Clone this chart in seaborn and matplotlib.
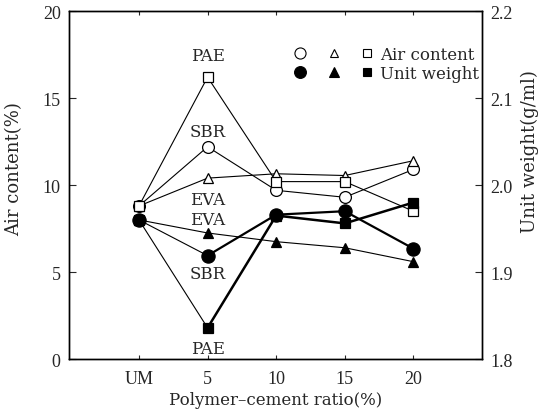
import matplotlib
matplotlib.use("Agg")
import matplotlib.pyplot as plt
from matplotlib.legend_handler import HandlerTuple
from matplotlib.lines import Line2D
import seaborn as sns
import pandas as pd

# Polymer-cement ratio categories
categories = ["UM", "5", "10", "15", "20"]

# Air content (%), left axis
air_sbr = [8.8, 12.2, 9.7, 9.3, 10.9]
air_eva = [8.8, 10.4, 10.65, 10.55, 11.4]
air_pae = [8.8, 16.2, 10.2, 10.2, 8.5]

# Unit weight (g/ml), right axis
uw_sbr = [1.960, 1.919, 1.966, 1.970, 1.927]
uw_eva = [1.960, 1.945, 1.935, 1.928, 1.912]
uw_pae = [1.960, 1.836, 1.965, 1.956, 1.980]

sns.set_theme(style="ticks")
plt.rcParams["font.family"] = ["Liberation Serif", "DejaVu Serif"]

FS = 13
WORD = dict(family=["DejaVu Serif"], fontsize=12)
YLAB = dict(family=["DejaVu Serif"], fontsize=13)
fig = plt.figure(figsize=(5.41, 4.14), dpi=100)
ax = fig.add_axes([0.1275, 0.130, 0.7635, 0.841])
ax2 = ax.twinx()

pos = list(range(len(categories)))


def frame(values):
    return pd.DataFrame({"x": pos, "y": values})


def draw(axis, values, marker, filled, ms, lw_first, lw_rest):
    df = frame(values)
    face = "black" if filled else "white"
    # first segment (UM -> 5) thin, remaining segments with their own weight
    sns.lineplot(data=df.iloc[:2], x="x", y="y", ax=axis, color="black",
                 lw=lw_first, marker=None, zorder=2)
    sns.lineplot(data=df.iloc[1:], x="x", y="y", ax=axis, color="black",
                 lw=lw_rest, marker=None, zorder=2)
    sns.lineplot(data=df, x="x", y="y", ax=axis, color="black", lw=0,
                 marker=marker, markersize=ms, markerfacecolor=face,
                 markeredgecolor="black", markeredgewidth=0.9, zorder=3)


# Air content series (open markers)
draw(ax, air_sbr, "o", False, 8.5, 0.8, 0.8)
draw(ax, air_eva, "^", False, 7.5, 0.8, 0.8)
draw(ax, air_pae, "s", False, 7.5, 0.8, 0.8)

# Unit weight series (filled markers)
draw(ax2, uw_sbr, "o", True, 9.5, 0.8, 1.6)
draw(ax2, uw_eva, "^", True, 7.5, 0.8, 0.8)
draw(ax2, uw_pae, "s", True, 7.0, 0.8, 1.8)

# Polymer names beside the 5 % points
label_kw = dict(ha="center", va="center", **WORD)
ax.text(1, 17.45, "PAE", **label_kw)
ax.text(1, 13.1, "SBR", **label_kw)
ax.text(1, 9.2, "EVA", **label_kw)
ax.text(1, 8.0, "EVA", **label_kw)
ax.text(1, 4.9, "SBR", **label_kw)
ax.text(1, 0.6, "PAE", **label_kw)

ax.set_xlim(-1.02, 5.0)
ax.set_ylim(0, 20)
ax2.set_ylim(1.8, 2.2)
ax.set_xticks(pos)
ax.set_xticklabels(categories)
ax.set_yticks([0, 5, 10, 15, 20])
ax2.set_yticks([1.8, 1.9, 2.0, 2.1, 2.2])
ax2.set_yticklabels(["1.8", "1.9", "2.0", "2.1", "2.2"])

ax.set_xlabel("Polymer\u2013cement ratio(%)", labelpad=3, **WORD)
ax.set_ylabel("Air content(%)", **YLAB)
ax2.set_ylabel("Unit weight(g/ml)", **YLAB)
ax.yaxis.set_label_coords(-0.11, 0.55)
ax2.yaxis.set_label_coords(1.093, 0.6)

ax.tick_params(axis="x", direction="in", top=True, length=3, width=0.8,
               labelsize=FS, pad=8)
ax.tick_params(axis="y", direction="in", length=5, width=0.8,
               labelsize=FS, pad=6)
ax2.tick_params(axis="y", direction="in", length=5, width=0.8,
                labelsize=FS, pad=6)
for a in (ax, ax2):
    for sp in a.spines.values():
        sp.set_visible(True)
        sp.set_linewidth(1.0)
        sp.set_color("black")
ax.grid(False)
ax2.grid(False)

# Legend: open markers for air content, filled markers for unit weight
def mk(marker, filled, ms):
    return Line2D([], [], lw=0, marker=marker, markersize=ms,
                  markerfacecolor="black" if filled else "white",
                  markeredgecolor="black", markeredgewidth=0.8)

h_air = (mk("o", False, 8), mk("^", False, 6), mk("s", False, 6))
h_uw = (mk("o", True, 8.5), mk("^", True, 6.5), mk("s", True, 6))
ax.legend([h_air, h_uw], ["Air content", "Unit weight"],
          handler_map={tuple: HandlerTuple(ndivide=None, pad=1.0)},
          handlelength=5.0, handletextpad=0.3, labelspacing=0.15,
          frameon=False, prop=dict(family="DejaVu Serif", size=12),
          loc="upper right", bbox_to_anchor=(1.01, 0.92), borderaxespad=0)

fig.savefig("out.png", dpi=100)
